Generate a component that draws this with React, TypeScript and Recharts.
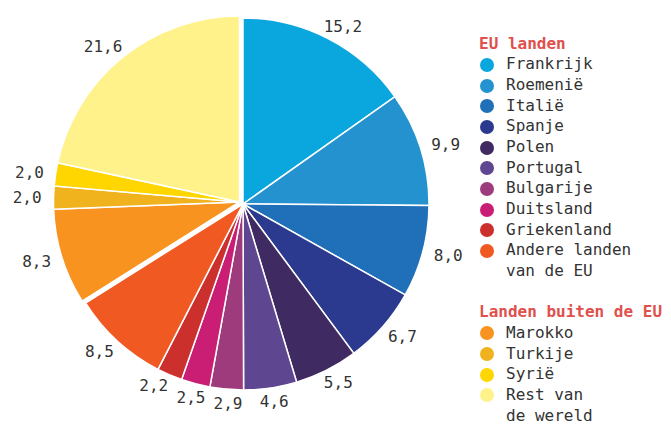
import { PieChart, Pie, Cell, Legend } from "recharts";

// aandeel per herkomstland (%)
const euLanden = [
  "Frankrijk",
  "Roemenië",
  "Italië",
  "Spanje",
  "Polen",
  "Portugal",
  "Bulgarije",
  "Duitsland",
  "Griekenland",
  "Andere landen\nvan de EU",
];
const euWaarden = [15.2, 9.9, 8.0, 6.7, 5.5, 4.6, 2.9, 2.5, 2.2, 8.5];
const euKleuren = [
  "#0AA6DE",
  "#2592D0",
  "#1F70B8",
  "#2B3A8F",
  "#3F2A62",
  "#5E4691",
  "#9D3B7C",
  "#C91E74",
  "#CB302C",
  "#F05A22",
];

const buitenLanden = ["Marokko", "Turkije", "Syrië", "Rest van\nde wereld"];
const buitenWaarden = [8.3, 2.0, 2.0, 21.6];
const buitenKleuren = ["#F7931E", "#F0B31E", "#FFD600", "#FFF28A"];

const euData = euLanden.map((naam, i) => ({ naam, waarde: euWaarden[i] }));
const buitenData = buitenLanden.map((naam, i) => ({
  naam,
  waarde: buitenWaarden[i],
}));

const sum = (a: number[]) => a.reduce((s, v) => s + v, 0);
const totaal = sum(euWaarden) + sum(buitenWaarden);
const splitHoek = 90 - (360 * sum(euWaarden)) / totaal;

const FONT = "'DejaVu Sans Mono', 'Liberation Mono', monospace";
const RADIAN = Math.PI / 180;
const R = 186;
const EU_C = { x: 243, y: 204 };
const BUITEN_C = { x: 239.5, y: 202 };
const GAP_X = 12;
const GAP_Y = 6;
const CHAR_W = 9.6;
const TXT_H = 16;

const fmt = (v: number) => v.toFixed(1).replace(".", ",");

// label centre: anchor just outside the rim, then push the box outward
const labelPos = (c: { x: number; y: number }, deg: number, w: number) => {
  const ux = Math.sin(deg * RADIAN);
  const uy = -Math.cos(deg * RADIAN);
  return {
    x: c.x + (R + GAP_X) * ux + (ux * w) / 2,
    y: c.y + (R + GAP_Y) * uy + (uy * TXT_H) / 2,
  };
};

// simple overlap avoidance across all labels (angles clockwise from 12 o'clock)
const alleWaarden = [...euWaarden, ...buitenWaarden];
const hoeken: number[] = [];
{
  let acc = 0;
  alleWaarden.forEach((v) => {
    hoeken.push(((acc + v / 2) / totaal) * 360);
    acc += v;
  });
}
const basisHoeken = [...hoeken];
const centrum = (i: number) => (i < euWaarden.length ? EU_C : BUITEN_C);
const breedte = (i: number) => fmt(alleWaarden[i]).length * CHAR_W;
for (let it = 0; it < 300; it++) {
  let moved = false;
  for (let i = 0; i < hoeken.length; i++) {
    const j = (i + 1) % hoeken.length;
    const a = labelPos(centrum(i), hoeken[i], breedte(i));
    const b = labelPos(centrum(j), hoeken[j], breedte(j));
    if (
      Math.abs(a.x - b.x) < (breedte(i) + breedte(j)) / 2 + 8 &&
      Math.abs(a.y - b.y) < TXT_H + 2
    ) {
      hoeken[i] -= 0.2;
      hoeken[j] += 0.2;
      moved = true;
    }
  }
  if (!moved) break;
}
const hoekCorrectie = hoeken.map((h, i) => h - basisHoeken[i]);

const makeLabel = (offset: number) => (props: any) => {
  const { cx, cy, midAngle, value, index } = props;
  const deg = 90 - midAngle + hoekCorrectie[offset + index];
  const p = labelPos({ x: cx, y: cy }, deg, fmt(value).length * CHAR_W);
  return (
    <text
      x={p.x}
      y={p.y}
      textAnchor="middle"
      dominantBaseline="central"
      fill="#333"
      fontSize={16}
      fontFamily={FONT}
    >
      {fmt(value)}
    </text>
  );
};

const LegendRow = ({ kleur, naam }: { kleur: string; naam: string }) => (
  <div style={{ display: "flex", alignItems: "flex-start" }}>
    <span
      style={{
        width: 14,
        height: 14,
        borderRadius: 7,
        background: kleur,
        marginTop: 3.5,
        marginLeft: 1,
        marginRight: 12,
        flexShrink: 0,
      }}
    />
    <span style={{ whiteSpace: "pre-line" }}>{naam}</span>
  </div>
);

const renderLegend = () => (
  <div
    style={{
      fontFamily: FONT,
      fontSize: 16,
      lineHeight: "20.65px",
      color: "#333",
    }}
  >
    <div style={{ color: "#E0504D", fontWeight: "bold" }}>EU landen</div>
    {euLanden.map((n, i) => (
      <LegendRow key={n} kleur={euKleuren[i]} naam={n} />
    ))}
    <div style={{ height: 20.65 }} />
    <div style={{ color: "#E0504D", fontWeight: "bold", whiteSpace: "nowrap" }}>
      Landen buiten de EU
    </div>
    {buitenLanden.map((n, i) => (
      <LegendRow key={n} kleur={buitenKleuren[i]} naam={n} />
    ))}
  </div>
);

export default function App() {
  return (
    <div style={{ position: "absolute", left: 0, top: 0 }}>
      <PieChart
        width={671}
        height={425}
        margin={{ top: 0, right: 0, bottom: 0, left: 0 }}
      >
        <Pie
          data={euData}
          dataKey="waarde"
          nameKey="naam"
          cx={EU_C.x}
          cy={EU_C.y}
          outerRadius={R}
          startAngle={90}
          endAngle={splitHoek}
          stroke="#fff"
          strokeWidth={1.5}
          label={makeLabel(0)}
          labelLine={false}
          isAnimationActive={false}
        >
          {euData.map((d, i) => (
            <Cell key={d.naam} fill={euKleuren[i]} />
          ))}
        </Pie>
        <Pie
          data={buitenData}
          dataKey="waarde"
          nameKey="naam"
          cx={BUITEN_C.x}
          cy={BUITEN_C.y}
          outerRadius={R}
          startAngle={splitHoek}
          endAngle={-270}
          stroke="#fff"
          strokeWidth={1.5}
          label={makeLabel(euWaarden.length)}
          labelLine={false}
          isAnimationActive={false}
        >
          {buitenData.map((d, i) => (
            <Cell key={d.naam} fill={buitenKleuren[i]} />
          ))}
        </Pie>
        <Legend
          content={renderLegend}
          layout="vertical"
          verticalAlign="top"
          align="right"
          wrapperStyle={{ left: 479, top: 33.8, width: 192, right: "auto" }}
        />
      </PieChart>
    </div>
  );
}
